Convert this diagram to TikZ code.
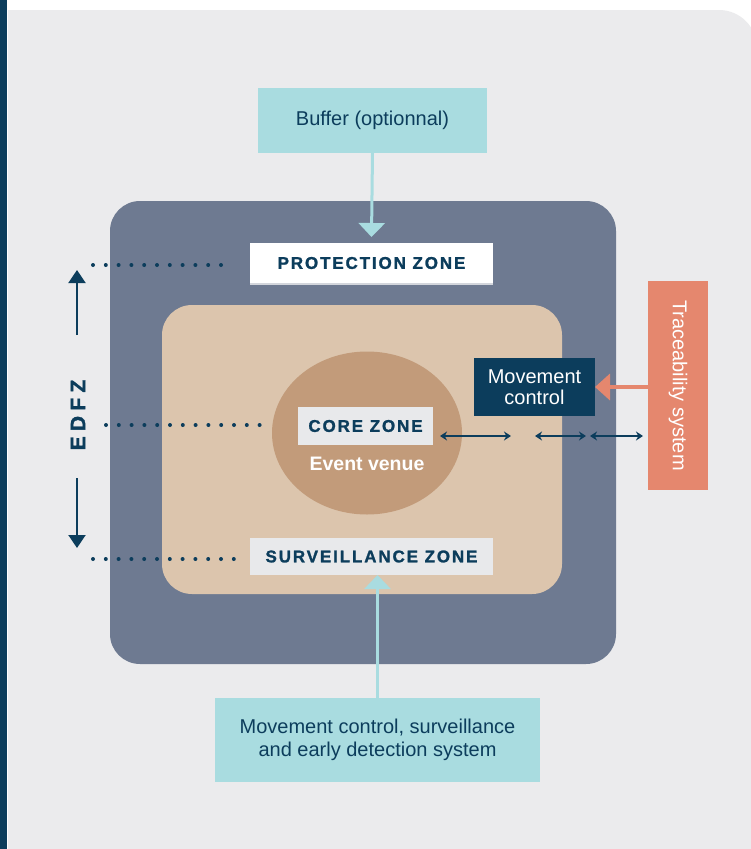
\documentclass[tikz,border=0pt]{standalone}
\usepackage{fontspec}
\setmainfont{Liberation Sans}
\newfontfamily\zonefont[LetterSpace=11,FakeBold=1.3]{Liberation Sans Bold}
\newfontfamily\edfzfont[LetterSpace=25,FakeBold=1.3]{Liberation Sans Bold}
\usetikzlibrary{arrows.meta,calc,shapes.geometric}

\definecolor{panelgrey}{HTML}{EBEBED}
\definecolor{navy}{HTML}{0C3D5C}
\definecolor{slate}{HTML}{6E7A91}
\definecolor{sand}{HTML}{DCC5AD}
\definecolor{venue}{HTML}{C29B7A}
\definecolor{teal}{HTML}{A9DCE0}
\definecolor{salmon}{HTML}{E5876E}
\definecolor{labelgrey}{HTML}{E8E9EB}
\definecolor{edgegrey}{HTML}{D3D6DC}

\begin{document}
\begin{tikzpicture}[x=1pt,y=-1pt,
    every node/.style={inner sep=0pt,outer sep=0pt,text=navy},
    infobox/.style={fill=teal,align=center,font=\fontsize{20}{23}\selectfont},
    zonelabel/.style={fill=labelgrey,font=\zonefont\fontsize{17}{20}\selectfont},
    feed/.style={teal,line width=3pt,-{Triangle[width=26pt,length=14pt]}},
    dots/.style={navy,line width=4pt,line cap=round,dash pattern=on 0pt off 12.8pt},
    span/.style={navy,line width=1.3pt,{Stealth[width=9pt,length=7pt]}-{Stealth[width=9pt,length=7pt]}},
    bound/.style={navy,line width=2pt,-{Triangle[width=17pt,length=13pt]}}]
\useasboundingbox (0,0) rectangle (750,849);
% background
\fill[white] (0,0) rectangle (750,849);
\fill[panelgrey] (8,849) -- (8,10) [rounded corners=38pt] -- (757,10) [sharp corners] -- (757,849) -- cycle;
\fill[navy] (0,0) rectangle (7,849);

% zones
\node[fill=slate,rounded corners=30pt,minimum width=506pt,minimum height=463pt] (edfz) at (363,432.5) {};
\node[fill=sand,rounded corners=30pt,minimum width=400pt,minimum height=289pt] (inner) at (362,449.5) {};
\node[fill=venue,ellipse,minimum width=190pt,minimum height=163pt] (venue) at (367,433) {};

\node[zonelabel,fill=white,minimum width=243pt,minimum height=40pt] (prot) at (371.5,263) {PROTECTION ZONE};
\draw[edgegrey,line width=2.5pt] ($(prot.south west)+(0,1.2)$) -- ($(prot.south east)+(0,1.2)$);
\node[zonelabel,minimum width=135pt,minimum height=38pt] (core) at (365.5,426) {CORE ZONE};
\node[font=\bfseries\fontsize{19.5}{22}\selectfont,text=white] (event) at (367,464) {Event venue};
\node[zonelabel,minimum width=243pt,minimum height=37pt] (surv) at (371.5,556.5) {SURVEILLANCE ZONE};

% systems
\node[infobox,minimum width=229pt,minimum height=65pt] (buffer) at (372.5,120.5) {Buffer (optionnal)};
\node[infobox,minimum width=325pt,minimum height=84pt] (detect) at (377.5,740) {Movement control, surveillance\\and early detection system};
\node[fill=navy,text=white,align=center,minimum width=121pt,minimum height=58pt,
      font=\fontsize{20}{21}\selectfont] (move) at (534.5,387) {Movement\\control};
\node[fill=salmon,minimum width=60pt,minimum height=209pt] (trace) at (678,385.5) {};
\node[text=white,rotate=-90,font=\fontsize{20}{23}\selectfont] (tracetext) at (trace) {Traceability system};

% EDFZ
\node[rotate=90,font=\edfzfont\fontsize{21}{24}\selectfont] (edfzlabel) at (78,415) {EDFZ};
\coordinate (up0) at (77,335);
\coordinate (up1) at (77,270);
\coordinate (dn0) at (77,478);
\coordinate (dn1) at (77,548);
\draw[bound] (up0) -- (up1);
\draw[bound] (dn0) -- (dn1);

% dotted leaders
\coordinate (l1) at (93,265);
\coordinate (l2) at (106,425);
\coordinate (l3) at (93,559);
\draw[dots] (l1) -- ($(prot.west |- l1)+(-18,0)$);
\draw[dots] (l2) -- ($(core.west |- l2)+(-32,0)$);
\draw[dots] (l3) -- ($(surv.west |- l3)+(-5,0)$);

% connectors
\draw[feed] (buffer.south) -- ($(prot.north)+(0,-6)$);
\draw[feed] (detect.north) -- (detect.north |- surv.south);
\draw[salmon,line width=4pt,-{Triangle[width=26pt,length=15pt]}] (trace.west |- move) -- (move.east);

\coordinate (s1) at (511,436);
\coordinate (s2) at (535,436);
\coordinate (s3) at (586,436);
\coordinate (s4) at (590,436);
\coordinate (s5) at (643,436);
\draw[span] ($(core.east |- s1)+(7,0)$) -- (s1);
\draw[span] (s2) -- (s3);
\draw[span] (s4) -- (s5);
\end{tikzpicture}
\end{document}
